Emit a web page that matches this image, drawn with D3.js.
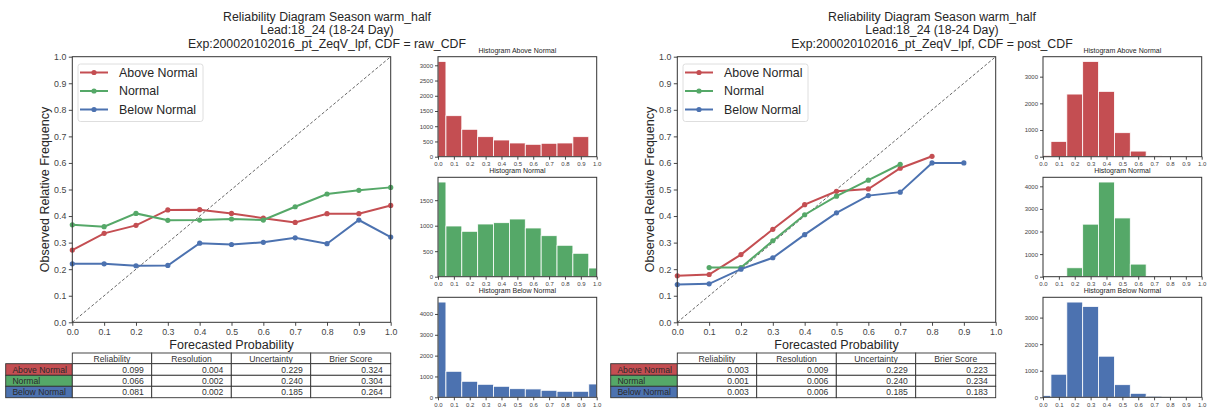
<!DOCTYPE html>
<html>
<head>
<meta charset="utf-8">
<script src="https://cdn.jsdelivr.net/npm/d3@7"></script>
<style>
body { margin: 0; background: #fff; }
svg { display: block; }
text { font-family: "Liberation Sans", Arial, sans-serif; }
</style>
</head>
<body>
<script>
// forecast probability bins (also histogram bin centres)
const probBins = [0.0, 0.1, 0.2, 0.3, 0.4, 0.5, 0.6, 0.7, 0.8, 0.9, 1.0];
const categories = ["Above Normal", "Normal", "Below Normal"];
const catColors = ["#C44E52", "#55A868", "#4C72B0"];

// observed relative frequency, raw CDF
const rawAbove  = [0.272, 0.335, 0.365, 0.423, 0.424, 0.410, 0.392, 0.376, 0.409, 0.409, 0.440];
const rawNormal = [0.367, 0.360, 0.410, 0.384, 0.385, 0.389, 0.385, 0.435, 0.483, 0.497, 0.508];
const rawBelow  = [0.220, 0.220, 0.213, 0.214, 0.298, 0.293, 0.301, 0.318, 0.296, 0.385, 0.321];

// observed relative frequency, post CDF (null = empty bin)
const postAbove  = [0.175, 0.180, 0.255, 0.350, 0.443, 0.493, 0.502, 0.580, 0.625, null, null];
const postNormal = [null, 0.206, 0.206, 0.307, 0.405, 0.475, 0.535, 0.595, null, null, null];
const postBelow  = [0.142, 0.145, 0.200, 0.243, 0.330, 0.412, 0.477, 0.490, 0.600, 0.600, null];

// histogram counts per bin
const rawHistAbove  = [3126, 1346, 899, 657, 548, 450, 407, 440, 450, 657, 0];
const rawHistNormal = [1856, 994, 890, 1033, 1059, 1131, 955, 804, 616, 459, 170];
const rawHistBelow  = [4571, 1248, 768, 624, 528, 413, 400, 336, 288, 288, 638];
const postHistAbove  = [50, 574, 2348, 3570, 2449, 900, 210, 30, 10, 5, 0];
const postHistNormal = [0, 0, 395, 2325, 4190, 2600, 557, 0, 0, 0, 0];
const postHistBelow  = [70, 868, 3585, 3419, 1547, 475, 150, 40, 10, 5, 0];

// score table
const scoreColumns = ["Reliability", "Resolution", "Uncertainty", "Brier Score"];
const rawScoresAbove  = [0.099, 0.004, 0.229, 0.324];
const rawScoresNormal = [0.066, 0.002, 0.240, 0.304];
const rawScoresBelow  = [0.081, 0.002, 0.185, 0.264];
const postScoresAbove  = [0.003, 0.009, 0.229, 0.223];
const postScoresNormal = [0.001, 0.006, 0.240, 0.234];
const postScoresBelow  = [0.003, 0.006, 0.185, 0.183];

const titleLine1 = "Reliability Diagram Season warm_half";
const titleLine2 = "Lead:18_24 (18-24 Day)";
const expName = "200020102016_pt_ZeqV_lpf";

var panels = [
    {dx: 0, cdf: "raw_CDF", rel: [rawAbove, rawNormal, rawBelow],
     hist: [rawHistAbove, rawHistNormal, rawHistBelow],
     scores: [rawScoresAbove, rawScoresNormal, rawScoresBelow]},
    {dx: 605, cdf: "post_CDF", rel: [postAbove, postNormal, postBelow],
     hist: [postHistAbove, postHistNormal, postHistBelow],
     scores: [postScoresAbove, postScoresNormal, postScoresBelow]}
];

var svg = d3.select("body").append("svg")
    .attr("width", 1213)
    .attr("height", 411);

// tidy a d3 axis to look like the matplotlib ticks
function styleAxis(sel, fs) {
    sel.select(".domain").remove();
    sel.selectAll(".tick line").attr("stroke", "#333").attr("stroke-width", 0.9);
    sel.selectAll(".tick text").attr("fill", "#444").style("font-size", fs);
}

function drawPanel(p) {
    var g = svg.append("g").attr("transform", `translate(${p.dx},0)`);

    //Title
    var lines = [titleLine1, titleLine2, `Exp:${expName}, CDF = ${p.cdf}`];
    g.selectAll(".title").data(lines).enter().append("text")
        .attr("x", 327)
        .attr("y", (d, i) => 20.5 + i * 13.8)
        .attr("text-anchor", "middle")
        .attr("fill", "#262626")
        .style("font-size", "12.3px")
        .text(d => d);

    //Main reliability plot
    var x = d3.scaleLinear().domain([0, 1]).range([72.3, 390.7]);
    var y = d3.scaleLinear().domain([0, 1]).range([322.3, 56.7]);

    g.append("g").attr("transform", "translate(0,322.3)")
        .call(d3.axisBottom(x).tickValues(probBins).tickFormat(d3.format(".1f")).tickSize(3.5).tickPadding(2.5))
        .call(styleAxis, "8.8px");
    g.append("g").attr("transform", "translate(72.3,0)")
        .call(d3.axisLeft(y).tickValues(probBins).tickFormat(d3.format(".1f")).tickSize(3.5).tickPadding(2.5))
        .call(styleAxis, "8.8px");

    //perfect reliability line
    g.append("line")
        .attr("x1", x(0)).attr("y1", y(0))
        .attr("x2", x(1)).attr("y2", y(1))
        .attr("stroke", "#555")
        .attr("stroke-width", 0.9)
        .attr("stroke-dasharray", "3,2");

    var line = d3.line()
        .defined(d => d.v != null)
        .x(d => x(d.p))
        .y(d => y(d.v));

    p.rel.forEach((vals, i) => {
        var pts = vals.map((v, j) => ({p: probBins[j], v: v}));
        g.append("path")
            .attr("d", line(pts))
            .attr("fill", "none")
            .attr("stroke", catColors[i])
            .attr("stroke-width", 2);
        g.selectAll(null).data(pts.filter(d => d.v != null)).enter().append("circle")
            .attr("cx", d => x(d.p))
            .attr("cy", d => y(d.v))
            .attr("r", 2.6)
            .attr("fill", catColors[i]);
    });

    g.append("rect")
        .attr("x", x(0)).attr("y", y(1))
        .attr("width", x(1) - x(0)).attr("height", y(0) - y(1))
        .attr("fill", "none").attr("stroke", "#333").attr("stroke-width", 1);

    //Axis labels
    g.append("text")
        .attr("x", (x(0) + x(1)) / 2).attr("y", 349)
        .attr("text-anchor", "middle")
        .attr("fill", "#262626")
        .style("font-size", "12.5px")
        .text("Forecasted Probability");
    g.append("text")
        .attr("transform", `translate(48.5,${(y(0) + y(1)) / 2}) rotate(-90)`)
        .attr("text-anchor", "middle")
        .attr("fill", "#262626")
        .style("font-size", "12.5px")
        .text("Observed Relative Frequency");

    //Legend
    var lg = g.append("g").attr("transform", `translate(${x(0) + 5.7},64)`);
    lg.append("rect")
        .attr("width", 125).attr("height", 57.5)
        .attr("rx", 2.5)
        .attr("fill", "#fff").attr("fill-opacity", 0.8)
        .attr("stroke", "#d5d5d5").attr("stroke-width", 0.8);
    categories.forEach((c, i) => {
        var cy = 8.5 + i * 18.5;
        lg.append("line")
            .attr("x1", 2).attr("x2", 30).attr("y1", cy).attr("y2", cy)
            .attr("stroke", catColors[i]).attr("stroke-width", 2);
        lg.append("circle").attr("cx", 16).attr("cy", cy).attr("r", 2.6).attr("fill", catColors[i]);
        lg.append("text")
            .attr("x", 41).attr("y", cy + 4.4)
            .attr("fill", "#262626")
            .style("font-size", "12.4px")
            .text(c);
    });

    //Histograms
    var hx = d3.scaleLinear().domain([0, 1]).range([438, 596.7]);
    var rows = [[56.7, 156.7], [177.3, 276.7], [297.3, 397.3]];
    p.hist.forEach((counts, i) => {
        var top = rows[i][0], bottom = rows[i][1];
        var hy = d3.scaleLinear().domain([0, d3.max(counts) * 1.05]).range([bottom, top]);
        var bins = counts.map((c, j) => ({p: probBins[j], c: c}));

        g.selectAll(null).data(bins.filter(d => d.c > 0)).enter().append("rect")
            .attr("x", d => hx(Math.max(0, d.p - 0.05)))
            .attr("width", d => hx(Math.min(1, d.p + 0.05)) - hx(Math.max(0, d.p - 0.05)))
            .attr("y", d => hy(d.c))
            .attr("height", d => bottom - hy(d.c))
            .attr("fill", catColors[i])
            .attr("stroke", "#fff")
            .attr("stroke-width", 0.8);

        g.append("g").attr("transform", `translate(0,${bottom})`)
            .call(d3.axisBottom(hx).tickValues(probBins).tickFormat(d3.format(".1f")).tickSize(3).tickPadding(2))
            .call(styleAxis, "6px");
        g.append("g").attr("transform", `translate(${hx(0)},0)`)
            .call(d3.axisLeft(hy).ticks(5).tickFormat(d3.format("d")).tickSize(3).tickPadding(2))
            .call(styleAxis, "6px");

        g.append("rect")
            .attr("x", hx(0)).attr("y", top)
            .attr("width", hx(1) - hx(0)).attr("height", bottom - top)
            .attr("fill", "none").attr("stroke", "#333").attr("stroke-width", 1);

        g.append("text")
            .attr("x", (hx(0) + hx(1)) / 2).attr("y", top - 4)
            .attr("text-anchor", "middle")
            .attr("fill", "#262626")
            .style("font-size", "7px")
            .text("Histogram " + categories[i]);
    });

    //Score table
    var colEdges = [72.3, 151.7, 231.3, 310.7, 390.7];
    var rowEdges = [353, 363.7, 375.3, 386.3, 397.7];
    var labelLeft = 5.7;
    var tg = g.append("g");

    scoreColumns.forEach((c, j) => {
        tg.append("rect")
            .attr("x", colEdges[j]).attr("y", rowEdges[0])
            .attr("width", colEdges[j + 1] - colEdges[j]).attr("height", rowEdges[1] - rowEdges[0])
            .attr("fill", "#fff").attr("stroke", "#333").attr("stroke-width", 0.9);
        tg.append("text")
            .attr("x", (colEdges[j] + colEdges[j + 1]) / 2).attr("y", rowEdges[1] - 2.2)
            .attr("text-anchor", "middle")
            .attr("fill", "#333")
            .style("font-size", "8.6px")
            .text(c);
    });

    p.scores.forEach((vals, i) => {
        var r0 = rowEdges[i + 1], r1 = rowEdges[i + 2];
        tg.append("rect")
            .attr("x", labelLeft).attr("y", r0)
            .attr("width", colEdges[0] - labelLeft).attr("height", r1 - r0)
            .attr("fill", catColors[i]).attr("stroke", "#333").attr("stroke-width", 0.9);
        tg.append("text")
            .attr("x", labelLeft + 6.7).attr("y", r1 - 2.4)
            .attr("fill", "#2a2a2a")
            .style("font-size", "8.6px")
            .text(categories[i]);
        vals.forEach((v, j) => {
            tg.append("rect")
                .attr("x", colEdges[j]).attr("y", r0)
                .attr("width", colEdges[j + 1] - colEdges[j]).attr("height", r1 - r0)
                .attr("fill", "#fff").attr("stroke", "#333").attr("stroke-width", 0.9);
            tg.append("text")
                .attr("x", colEdges[j + 1] - 7.9).attr("y", r1 - 2.4)
                .attr("text-anchor", "end")
                .attr("fill", "#333")
                .style("font-size", "8.6px")
                .text(d3.format(".3f")(v));
        });
    });
}

panels.forEach(drawPanel);
</script>
</body>
</html>
